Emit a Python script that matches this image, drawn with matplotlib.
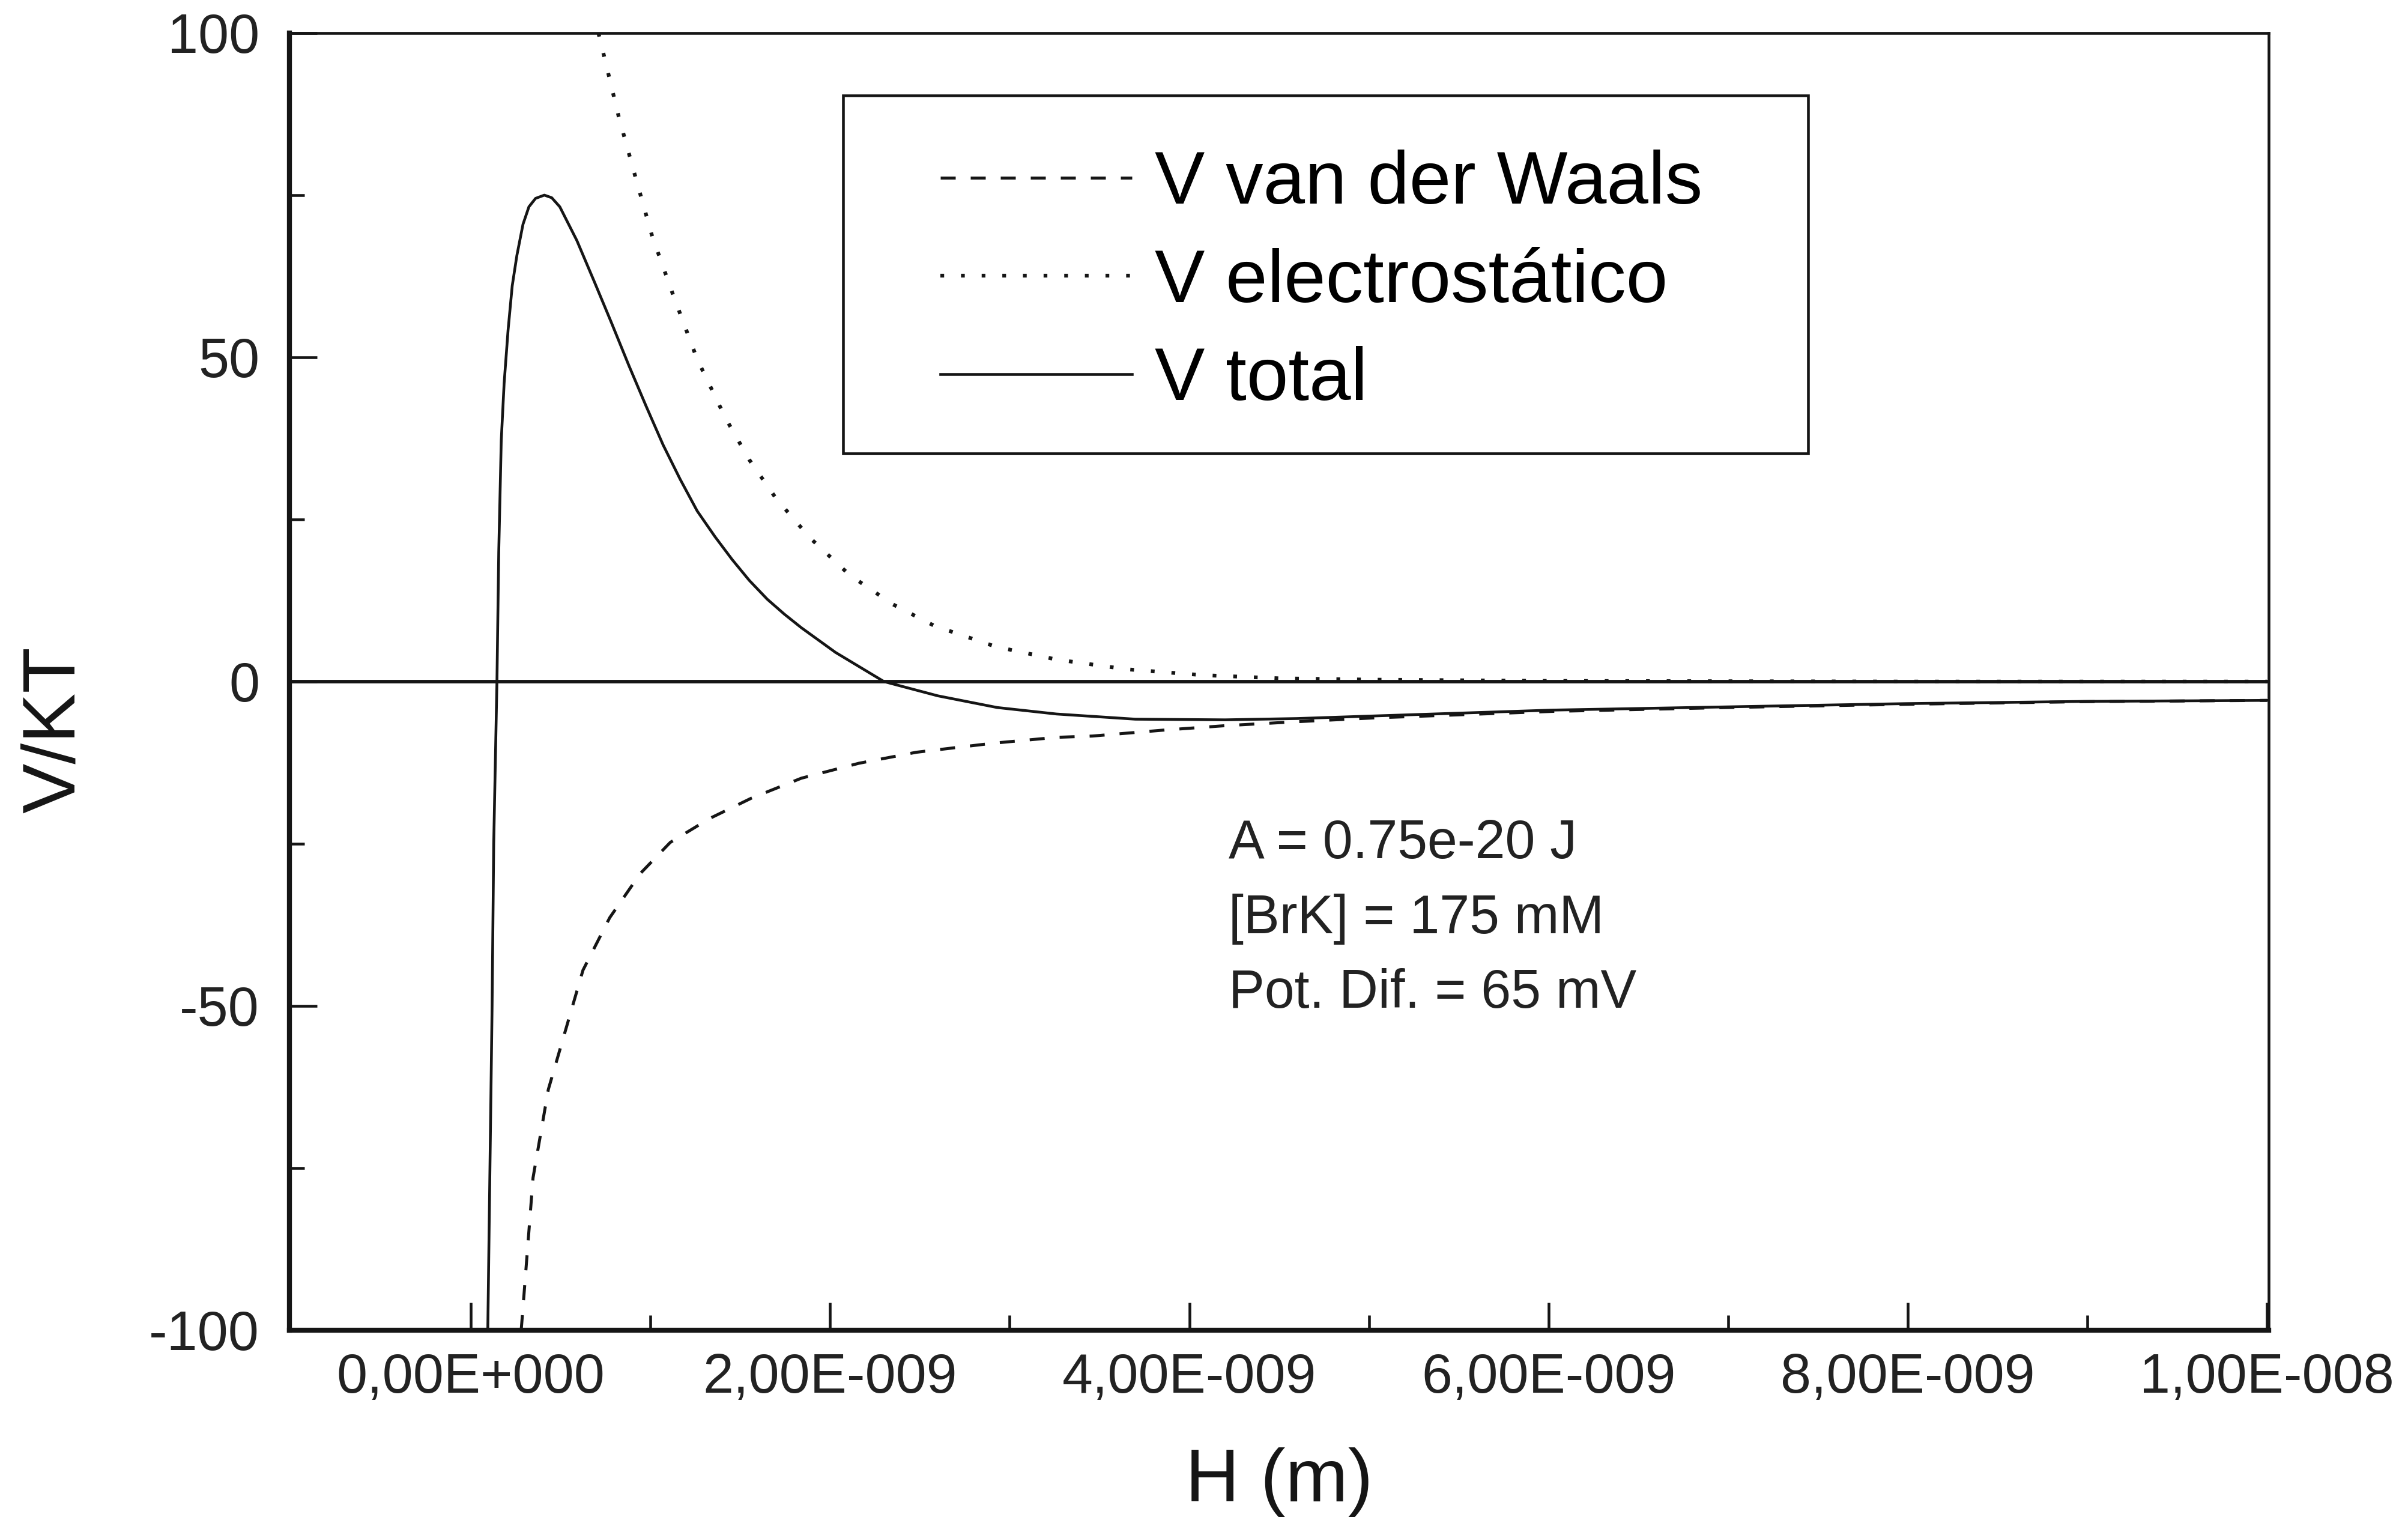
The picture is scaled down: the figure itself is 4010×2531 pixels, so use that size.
import matplotlib.pyplot as plt
from matplotlib.patches import Rectangle
from matplotlib.ticker import FixedLocator, FixedFormatter, MultipleLocator

plt.rcParams['font.family'] = ['Liberation Sans', 'DejaVu Sans']
plt.rcParams['axes.unicode_minus'] = False

# distances in nm (multiplied by 1e-9 below), energies in units of kT
h_vdw = [0.28, 0.287, 0.346, 0.431, 0.517, 0.624, 0.773, 0.943, 1.11, 1.33, 1.56, 1.84,
         2.16, 2.48, 2.91, 3.26, 3.46, 3.85, 4.20, 4.59, 5.03, 6.02, 7.0, 7.99, 8.98, 10.0]
v_vdw = [-100, -97.6, -76.5, -62.9, -54.7, -44.5, -36.4, -29.6, -24.8, -21.1, -18.0, -14.9,
         -12.6, -10.9, -9.5, -8.6, -8.4, -7.5, -6.8, -6.2, -5.6, -4.6, -4.0, -3.5, -3.1, -2.9]

h_elec = [0.71, 0.741, 0.823, 0.914, 1.01, 1.13, 1.26, 1.42, 1.55, 1.70, 1.89, 2.11, 2.35,
          2.58, 2.92, 3.26, 3.65, 4.07, 4.5, 5.0, 6.0, 7.0, 8.0, 9.0, 10.0]
v_elec = [100, 96.5, 87.1, 78.0, 68.6, 59.3, 49.7, 40.5, 34.2, 28.2, 22.1, 16.4, 11.9,
          8.6, 5.4, 3.4, 1.9, 1.0, 0.5, 0.3, 0.1, 0.05, 0.0, 0.0, 0.0]

h_tot = [0.094, 0.118, 0.127, 0.145, 0.155, 0.169, 0.185, 0.207, 0.230, 0.256, 0.290, 0.323,
         0.36, 0.409, 0.45, 0.495, 0.59, 0.688, 0.78, 0.88, 0.975, 1.07, 1.165, 1.26, 1.36,
         1.455, 1.55, 1.65, 1.745, 1.84, 2.03, 2.30, 2.6, 2.93, 3.26, 3.70, 4.20, 4.6, 5.03,
         6.02, 7.0, 7.99, 8.98, 10.0]
v_tot = [-100, -50, -25, 0, 20, 37.2, 46, 54.2, 61, 65.7, 70.5, 73.2,
         74.5, 75.0, 74.6, 73.2, 68.0, 61.6, 55.5, 48.7, 42.5, 36.5, 31.2, 26.3, 22.3,
         18.8, 15.6, 12.7, 10.4, 8.3, 4.5, 0.0, -2.2, -4.0, -5.0, -5.8, -5.9, -5.7, -5.3,
         -4.4, -3.9, -3.4, -3.06, -2.9]

x_ticks = [0, 2e-9, 4e-9, 6e-9, 8e-9, 1e-8]
x_labels = ['0,00E+000', '2,00E-009', '4,00E-009', '6,00E-009', '8,00E-009', '1,00E-008']
y_ticks = [-100, -50, 0, 50, 100]

legend_labels = ['V van der Waals', 'V electrostático', 'V total']
note = 'A = 0.75e-20 J\n[BrK] = 175 mM\nPot. Dif. = 65 mV'

fig = plt.figure(figsize=(4011 / 300, 2531 / 300), dpi=300)
ax = fig.add_axes([0.1202, 0.1249, 0.8217, 0.8534])

ink = '#151515'
l1, = ax.plot([h * 1e-9 for h in h_vdw], v_vdw, color=ink, lw=1.2, ls=(0, (5, 5)))
l2, = ax.plot([h * 1e-9 for h in h_elec], v_elec, color=ink, lw=1.5, ls=(0, (1, 4.5)))
l3, = ax.plot([h * 1e-9 for h in h_tot], v_tot, color=ink, lw=1.1)
ax.axhline(0, color=ink, lw=1.4)

ax.set_xlim(-1.01e-9, 1.001e-8)
ax.set_ylim(-100, 100)

ax.xaxis.set_major_locator(FixedLocator(x_ticks))
ax.xaxis.set_major_formatter(FixedFormatter(x_labels))
ax.xaxis.set_minor_locator(FixedLocator([1e-9, 3e-9, 5e-9, 7e-9, 9e-9]))
ax.yaxis.set_major_locator(FixedLocator(y_ticks))
ax.yaxis.set_minor_locator(MultipleLocator(25))

ax.tick_params(which='both', direction='in', color=ink, top=False, right=False)
ax.tick_params(which='major', length=11, width=1.1, labelsize=22, labelcolor='#222222')
ax.tick_params(which='minor', length=6, width=1.1)
ax.tick_params(axis='x', which='major', pad=9)
ax.tick_params(axis='y', which='major', pad=12)

for side in ['left', 'bottom']:
    ax.spines[side].set_linewidth(2.0)
for side in ['top', 'right']:
    ax.spines[side].set_linewidth(1.1)
for s in ax.spines.values():
    s.set_color(ink)

ax.add_patch(Rectangle((0.2797, 0.676), 0.4876, 0.276, transform=ax.transAxes,
                       fill=False, ec=ink, lw=1.1, zorder=5))
ax.legend([l1, l2, l3], legend_labels, loc='upper left', bbox_to_anchor=(0.329, 0.910),
          frameon=False, fontsize=30, handlelength=2.55, handletextpad=0.3,
          labelspacing=0.38, borderpad=0, borderaxespad=0)

ax.text(0.4745, 0.317, note, transform=ax.transAxes, fontsize=21.5, va='center',
        ha='left', linespacing=1.6, color='#222222')

fig.text(92 / 4011, 1 - 1215 / 2531, 'V/KT', rotation=90, fontsize=30,
         ha='center', va='center', color=ink)
fig.text(2130 / 4011, 1 - 2468 / 2531, 'H (m)', fontsize=30,
         ha='center', va='center', color=ink)

fig.savefig('out.png', dpi=300)
